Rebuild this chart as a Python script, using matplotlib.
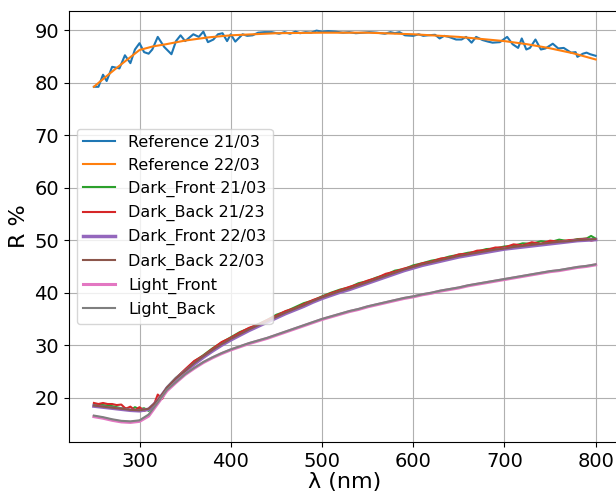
import matplotlib.pyplot as plt

# reference measurements (blue is noisy, orange is the smoothed one)
wl_ref1 = [250, 255, 260, 264, 270, 278, 284, 290, 295, 300, 305, 310, 314, 320, 327,
           335, 340, 345, 350, 359, 365, 370, 375, 381, 386, 391, 396, 400, 405, 413,
           418, 424, 430, 437, 445, 453, 459, 465, 471, 476, 482, 488, 494, 500, 507,
           515, 523, 530, 537, 545, 552, 560, 569, 575, 580, 585, 591, 600, 606, 611,
           616, 624, 629, 634, 639, 647, 653, 658, 664, 669, 676, 682, 687, 695, 703,
           709, 715, 719, 724, 728, 734, 740, 745, 753, 759, 765, 773, 778, 780, 786,
           790, 794, 800]
r_ref1 = [79.2, 79.2, 81.5, 80.3, 83.0, 82.7, 85.2, 83.7, 86.3, 87.5, 85.8, 85.5, 86.3, 88.7, 86.8,
          85.4, 87.9, 89.0, 87.9, 89.2, 88.7, 89.7, 87.7, 88.2, 89.2, 89.4, 87.9, 89.2, 87.8, 89.2,
          88.9, 89.0, 89.5, 89.6, 89.6, 89.3, 89.6, 89.3, 89.7, 89.4, 89.6, 89.5, 89.9, 89.7, 89.8,
          89.7, 89.5, 89.6, 89.4, 89.5, 89.6, 89.5, 89.3, 89.6, 89.4, 89.6, 89.0, 88.9, 89.2, 88.9,
          89.0, 89.1, 88.4, 88.9, 88.7, 88.2, 88.2, 88.7, 87.6, 88.7, 88.1, 87.8, 87.6, 87.7, 88.7,
          87.3, 86.6, 88.4, 86.3, 86.6, 88.2, 86.3, 86.5, 87.4, 86.5, 86.6, 85.7, 85.8, 84.9, 85.5,
          85.7, 85.4, 85.1]

wl_ref2 = [250, 263, 275, 286, 300, 315, 329, 350, 375, 400, 450, 500, 550, 600, 650,
           700, 725, 748, 775, 800]
r_ref2 = [79.2, 81.1, 82.8, 84.3, 86.2, 86.9, 87.3, 88.0, 88.6, 89.0, 89.4, 89.5, 89.5, 89.2, 88.7,
          87.9, 87.3, 86.6, 85.6, 84.4]

# sample curves, 10 nm steps
wl = [250, 260, 270, 280, 290, 300, 310, 320, 330, 340, 350, 360, 370, 380, 390,
      400, 410, 420, 430, 440, 450, 460, 470, 480, 490, 500, 510, 520, 530, 540,
      550, 560, 570, 580, 590, 600, 610, 620, 630, 640, 650, 660, 670, 680, 690,
      700, 710, 720, 730, 740, 750, 760, 770, 780, 790, 800]

dark_front_22 = [18.4, 18.2, 18.0, 17.8, 17.6, 17.5, 17.8, 19.4, 21.8, 23.6, 25.0, 26.4, 27.7, 28.9, 30.0,
                 31.0, 31.9, 32.8, 33.6, 34.4, 35.2, 36.0, 36.7, 37.4, 38.2, 38.9, 39.5, 40.1, 40.6, 41.2,
                 41.8, 42.4, 43.0, 43.6, 44.2, 44.7, 45.2, 45.6, 46.0, 46.4, 46.8, 47.1, 47.4, 47.7, 48.0,
                 48.3, 48.5, 48.7, 48.9, 49.1, 49.3, 49.5, 49.7, 49.9, 50.0, 50.1]
dark_back_22 = [18.5, 18.3, 18.1, 17.9, 17.7, 17.6, 17.9, 19.5, 21.9, 23.7, 25.1, 26.6, 27.9, 29.1, 30.2,
                31.2, 32.1, 33.0, 33.8, 34.6, 35.4, 36.2, 36.9, 37.6, 38.4, 39.1, 39.7, 40.3, 40.8, 41.4,
                42.0, 42.6, 43.2, 43.8, 44.4, 44.9, 45.4, 45.8, 46.2, 46.6, 47.0, 47.3, 47.6, 47.9, 48.2,
                48.4, 48.7, 48.9, 49.1, 49.3, 49.5, 49.7, 49.8, 50.0, 50.1, 50.2]
light_front = [16.4, 16.1, 15.7, 15.4, 15.3, 15.5, 16.5, 18.9, 21.3, 22.9, 24.4, 25.6, 26.7, 27.6, 28.4,
               29.1, 29.7, 30.3, 30.8, 31.3, 31.9, 32.5, 33.1, 33.7, 34.3, 34.9, 35.4, 35.9, 36.4, 36.8,
               37.3, 37.7, 38.1, 38.5, 38.9, 39.2, 39.6, 39.9, 40.3, 40.6, 40.9, 41.3, 41.6, 41.9, 42.2,
               42.5, 42.8, 43.1, 43.4, 43.7, 44.0, 44.2, 44.5, 44.8, 45.0, 45.3]
light_back = [16.6, 16.3, 15.9, 15.6, 15.5, 15.7, 16.8, 19.1, 21.5, 23.0, 24.5, 25.7, 26.8, 27.7, 28.5,
              29.2, 29.8, 30.4, 30.9, 31.4, 32.0, 32.6, 33.2, 33.8, 34.4, 35.0, 35.5, 36.0, 36.5, 36.9,
              37.4, 37.8, 38.2, 38.6, 39.0, 39.3, 39.7, 40.0, 40.4, 40.7, 41.0, 41.4, 41.7, 42.0, 42.3,
              42.6, 42.9, 43.2, 43.5, 43.8, 44.1, 44.3, 44.6, 44.9, 45.1, 45.4]

# 21/03 samples are noisier, finer steps at the UV end
wl_dark_21 = [250, 255, 260, 265, 270, 275, 280, 285, 290, 295, 300, 305, 310, 315, 320,
              325, 330, 340, 350, 360, 370, 380, 390, 400, 410, 420, 430, 440, 450, 460,
              470, 480, 490, 500, 510, 520, 530, 540, 550, 560, 570, 580, 590, 600, 610,
              620, 630, 640, 650, 660, 670, 680, 690, 700, 710, 720, 730, 740, 750, 760,
              770, 780, 790, 795, 800]
dark_front_21 = [18.7, 18.6, 18.6, 18.5, 18.4, 18.2, 18.0, 18.0, 17.6, 18.2, 17.8, 18.0, 17.5, 18.2, 19.4,
                 20.5, 22.0, 23.8, 25.3, 26.9, 28.1, 29.4, 30.5, 31.5, 32.5, 33.2, 34.0, 34.8, 35.8, 36.4,
                 37.2, 38.0, 38.5, 39.3, 40.0, 40.6, 41.0, 41.8, 42.2, 42.9, 43.4, 44.2, 44.5, 45.2, 45.6,
                 46.1, 46.4, 46.9, 47.2, 47.6, 47.8, 48.3, 48.4, 48.8, 48.9, 49.4, 49.3, 49.8, 49.6, 50.1,
                 49.8, 50.2, 50.3, 50.8, 50.3]
dark_back_21 = [19.0, 18.8, 19.0, 18.8, 18.8, 18.6, 18.7, 17.9, 18.3, 17.6, 18.2, 17.5, 17.8, 18.3, 20.6,
                19.8, 21.8, 23.7, 25.4, 27.0, 28.0, 29.3, 30.6, 31.4, 32.4, 33.3, 33.9, 34.8, 35.6, 36.5,
                37.0, 37.8, 38.6, 39.2, 39.9, 40.5, 41.1, 41.6, 42.3, 42.8, 43.6, 44.0, 44.6, 45.0, 45.6,
                45.9, 46.5, 46.7, 47.3, 47.4, 48.0, 48.1, 48.6, 48.6, 49.2, 49.0, 49.6, 49.3, 49.9, 49.7,
                50.0, 50.1, 50.3, 49.9, 50.1]


fig = plt.figure(figsize=(6.16, 4.91), dpi=100)
ax = fig.add_axes([0.1117, 0.0998, 0.896, 0.8778])

ax.plot(wl_ref1, r_ref1, color='tab:blue', lw=1.5, label='Reference 21/03')
ax.plot(wl_ref2, r_ref2, color='tab:orange', lw=1.5, label='Reference 22/03')
ax.plot(wl_dark_21, dark_front_21, color='tab:green', lw=1.5, label='Dark_Front 21/03')
ax.plot(wl_dark_21, dark_back_21, color='tab:red', lw=1.5, label='Dark_Back 21/23')
ax.plot(wl, dark_front_22, color='tab:purple', lw=2.5, label='Dark_Front 22/03')
ax.plot(wl, dark_back_22, color='tab:brown', lw=1.5, label='Dark_Back 22/03')
ax.plot(wl, light_front, color='tab:pink', lw=2.2, label='Light_Front')
ax.plot(wl, light_back, color='tab:gray', lw=1.5, label='Light_Back')

ax.set_xlabel('λ (nm)', fontsize=16, labelpad=1)
ax.set_ylabel('R %', fontsize=16)
ax.tick_params(labelsize=14)
ax.grid(True)
ax.legend(loc='center left', fontsize=11.5)

fig.savefig('out.png', dpi=100)
